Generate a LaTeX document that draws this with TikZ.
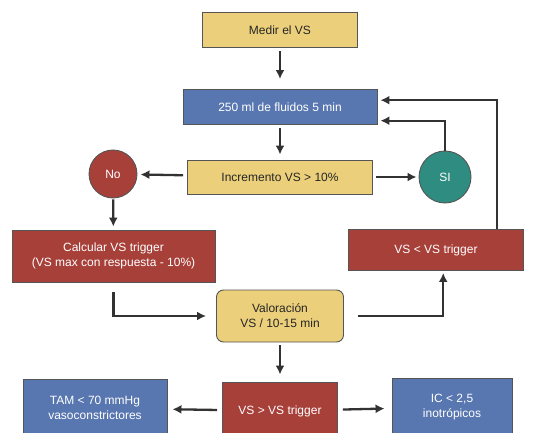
\documentclass[tikz,border=0pt]{standalone}
\usepackage{fontspec}
\setmainfont{Liberation Sans}
\usetikzlibrary{arrows.meta}
\definecolor{amarillo}{RGB}{235,207,122}
\definecolor{azul}{RGB}{88,118,176}
\definecolor{rojo}{RGB}{168,64,58}
\definecolor{verde}{RGB}{46,140,128}
\definecolor{borde}{RGB}{85,85,85}
\definecolor{flecha}{RGB}{50,50,50}
\begin{document}
\begin{tikzpicture}[x=1pt,y=-1pt,
    caja/.style={draw=borde,line width=0.9pt,inner sep=2pt,align=center,
      font=\fontsize{12}{15}\selectfont},
    clara/.style={caja,fill=amarillo,text=black!85},
    oscura/.style={caja,text=white},
    bola/.style={circle,draw=borde,line width=0.9pt,text=white,
      font=\fontsize{12}{15}\selectfont},
    flechas/.style={draw=flecha,line width=2.3pt,
      -{Latex[length=9pt,width=9pt]}}]
      \useasboundingbox (0,0) rectangle (544,433);
      \clip (0,0) rectangle (544,433);
      \draw
        (280,30) node[clara,minimum width=155,minimum height=35] (medir){Medir el VS}
        (280,107) node[oscura,fill=azul,minimum width=194,minimum height=35] (fluidos){250 ml de fluidos 5 min}
        (280,177) node[clara,minimum width=185,minimum height=34] (incremento){Incremento VS > 10\%}
        (113,174) node[bola,fill=rojo,minimum size=48] (no){No}
        (445,177) node[bola,fill=verde,minimum size=52] (si){SI}
        (113.5,256) node[oscura,fill=rojo,minimum width=203,minimum height=52] (calcular){Calcular VS trigger\\(VS max con respuesta - 10\%)}
        (436,250) node[oscura,fill=rojo,minimum width=175,minimum height=41] (menor){VS < VS trigger}
        (280,316) node[clara,rounded corners=7pt,minimum width=127,minimum height=52] (valoracion){Valoración\\VS / 10-15 min}
        (280,411) node[oscura,fill=rojo,minimum width=115,minimum height=58] (mayor){VS > VS trigger}
        (95,408) node[oscura,fill=azul,minimum width=144,minimum height=58] (tam){TAM < 70 mmHg\\vasoconstrictores}
        (452,407) node[oscura,fill=azul,minimum width=120,minimum height=58] (ic){IC < 2,5\\inotrópicos};
      \begin{scope}[flechas]
        \draw[shorten <=3pt,shorten >=10pt] (medir) to (fluidos);
        \draw[shorten <=3pt,shorten >=5pt] (fluidos) to (incremento);
        \draw[shorten <=4pt,shorten >=3pt] (incremento) to (no);
        \draw[shorten <=3pt,shorten >=2pt] (incremento) to (si);
        \draw[shorten >=3pt] (si.north) |- (fluidos.-8);
        \draw[shorten >=3pt] (menor.19) |- (fluidos.4);
        \draw[shorten <=1pt,shorten >=3pt] (no) to (calcular);
        \draw[shorten <=10pt,shorten >=10pt] (calcular.south) |- (valoracion.west);
        \draw[shorten <=14pt,shorten >=2pt] (valoracion.east) -| (menor.-71);
        \draw[shorten <=3pt,shorten >=7pt] (valoracion) to (mayor);
        \draw[shorten <=5pt,shorten >=5pt] (mayor) to (tam);
        \draw[shorten <=5pt,shorten >=7pt] (mayor) to (ic);
      \end{scope}
    \end{tikzpicture}
\end{document}
